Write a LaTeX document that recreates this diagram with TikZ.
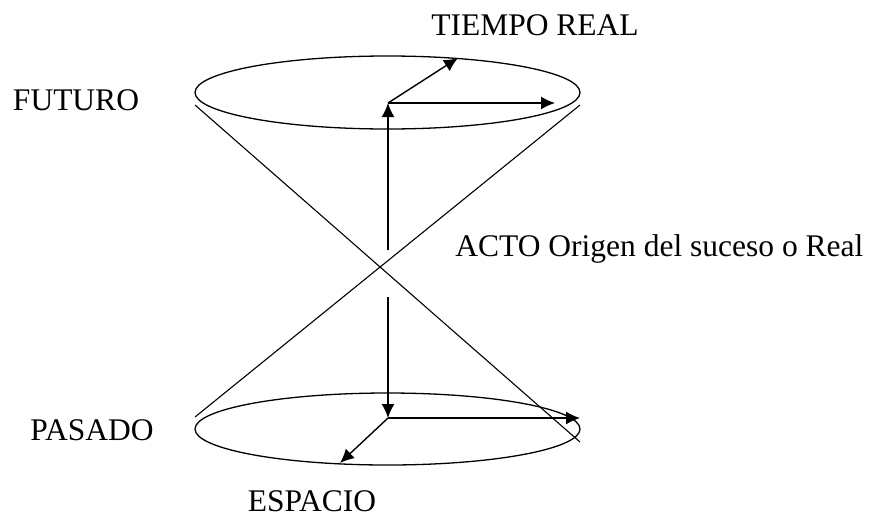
\documentclass[tikz,border=0pt]{standalone}
\usepackage{fontspec}
\setmainfont{Liberation Serif}
\usetikzlibrary{arrows.meta}

\begin{document}
\begin{tikzpicture}[x=0.5pt, y=0.5pt, >={Latex[length=7pt,width=6.5pt]},
    tag/.style={inner sep=0pt, font=\fontsize{15.75}{19}\selectfont},
    vec/.style={->, line width=0.7pt}]
\useasboundingbox (0,0) rectangle (870,516);

% Rings of the cone
\draw [line width=0.65pt] (387.5,423.5) ellipse [x radius=192.5, y radius=36.5];
\draw [line width=0.65pt] (387.5,87) ellipse [x radius=192.5, y radius=36];

% Cone edges
\coordinate (topL) at (195,411);
\coordinate (topR) at (580,411);
\coordinate (botL) at (195,99);
\coordinate (botR) at (580,74);
\draw [line width=0.55pt] (topL) -- (botR);
\draw [line width=0.55pt] (topR) -- (botL);

% Time axis, broken at the origin
\coordinate (upStart) at (388,266);
\coordinate (futO) at (388,413);
\coordinate (downStart) at (388,219);
\coordinate (pasO) at (388,98);
\draw [vec] (upStart) -- (futO);
\draw [vec] (downStart) -- (pasO);

% Axes on the upper ring
\coordinate (futX) at (555,413);
\coordinate (futY) at (458,458);
\draw [vec] (futO) -- (futX);
\draw [vec] (futO) -- (futY);

% Axes on the lower ring
\coordinate (pasX) at (580,98);
\coordinate (pasY) at (340,53);
\draw [vec] (pasO) -- (pasX);
\draw [vec] (pasO) -- (pasY);

% Labels
\node (tiempo) [tag, anchor=base] at (535,481) {TIEMPO REAL};
\node (futuro) [tag, anchor=base] at (76,406) {FUTURO};
\node (acto) [tag, anchor=base west] at (455,260) {ACTO Origen del suceso o Real};
\node (pasado) [tag, anchor=base] at (92,76) {PASADO};
\node (espacio) [tag, anchor=base] at (312,5) {ESPACIO};
\end{tikzpicture}
\end{document}
